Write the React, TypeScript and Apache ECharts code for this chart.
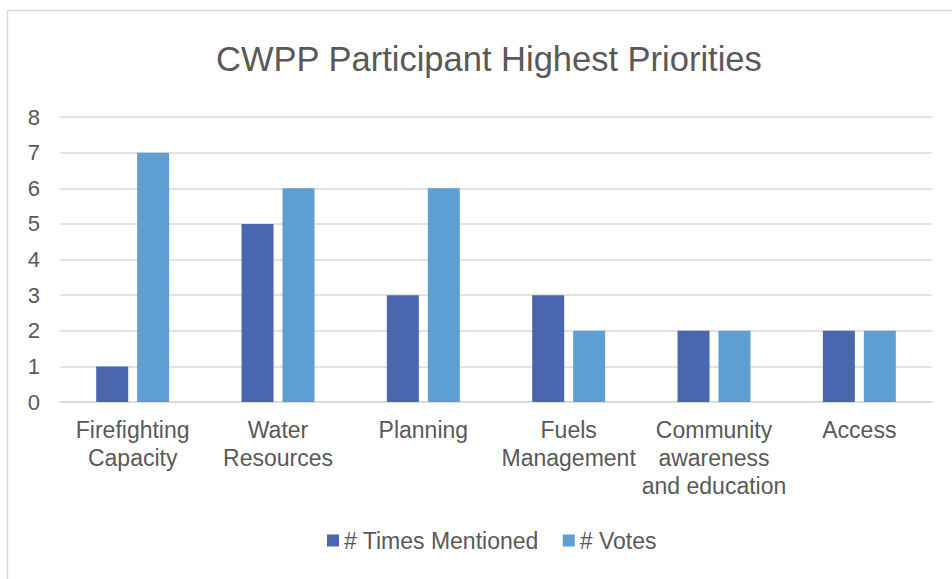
import React, { useEffect, useRef } from "react";
import * as echarts from "echarts";

const categories = [
  "Firefighting\nCapacity",
  "Water\nResources",
  "Planning",
  "Fuels\nManagement",
  "Community\nawareness\nand education",
  "Access",
];
const timesMentioned = [1, 5, 3, 3, 2, 2];
const votes = [7, 6, 6, 2, 2, 2];
const seriesNames = ["# Times Mentioned", "# Votes"];

const FONT = "'Liberation Sans', Arial, sans-serif";
const TEXT = "#595959";

export default function App() {
  const ref = useRef<HTMLDivElement>(null);
  useEffect(() => {
    if (!ref.current) return;
    const chart = echarts.init(ref.current, undefined, { renderer: "svg" });
    chart.setOption({
      animation: false,
      backgroundColor: "#ffffff",
      textStyle: { fontFamily: FONT },
      title: {
        text: "CWPP Participant Highest Priorities",
        left: 211,
        top: 36,
        textStyle: { fontFamily: FONT, fontSize: 34.5, fontWeight: "normal", color: TEXT },
      },
      graphic: [
        {
          type: "rect",
          shape: { x: 7.5, y: 10.5, width: 980, height: 620 },
          style: { fill: "none", stroke: "#d9d9d9", lineWidth: 1.5 },
          silent: true,
        },
      ],
      legend: {
        bottom: 22,
        left: 322,
        itemWidth: 12,
        itemHeight: 12,
        itemGap: 24,
        icon: "rect",
        textStyle: { fontFamily: FONT, fontSize: 23, color: TEXT, padding: [0, 0, 0, 0] },
        data: seriesNames,
      },
      grid: { left: 60, right: 20, top: 117, bottom: 177, containLabel: false },
      xAxis: {
        type: "category",
        data: categories,
        axisLine: { lineStyle: { color: "#d9d9d9", width: 1.5 } },
        axisTick: { show: false },
        axisLabel: {
          fontFamily: FONT,
          fontSize: 23,
          color: TEXT,
          lineHeight: 28,
          margin: 14,
          interval: 0,
        },
      },
      yAxis: {
        type: "value",
        min: 0,
        max: 8,
        interval: 1,
        axisLine: { show: false },
        axisTick: { show: false },
        splitLine: { lineStyle: { color: "#d9d9d9", width: 1.5 } },
        axisLabel: { fontFamily: FONT, fontSize: 22, color: TEXT, margin: 20 },
      },
      series: [
        {
          name: seriesNames[0],
          type: "bar",
          data: timesMentioned,
          barWidth: 32,
          barGap: "28%",
          itemStyle: { color: "#4966AE" },
        },
        {
          name: seriesNames[1],
          type: "bar",
          data: votes,
          barWidth: 32,
          itemStyle: { color: "#5F9ED3" },
        },
      ],
    });
    return () => chart.dispose();
  }, []);
  return (
    <div
      ref={ref}
      style={{ position: "absolute", left: 0, top: 0, width: 952, height: 579 }}
    />
  );
}
